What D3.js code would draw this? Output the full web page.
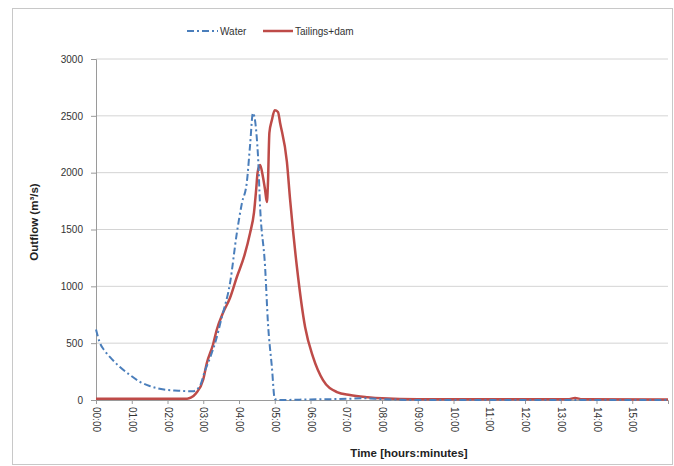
<!DOCTYPE html>
<html>
<head>
<meta charset="utf-8">
<script src="https://cdn.jsdelivr.net/npm/d3@7"></script>
<style>
  body { margin: 0; background: #fff; }
  svg { display: block; font-family: "Liberation Sans", Arial, sans-serif; }
</style>
</head>
<body>
<svg id="chart" width="674" height="466"></svg>
<script>
// hours since start -> outflow (m3/s)
const waterTime = [0, 0.1, 0.25, 0.4, 0.67, 0.95, 1.23, 1.5, 1.9, 2.3, 2.7, 2.9, 3.05, 3.2, 3.33, 3.52, 3.75, 3.94, 4.08, 4.22, 4.31, 4.39, 4.53, 4.59, 4.73, 4.81, 4.92, 5.0, 5.1, 6.0, 7.0, 7.5, 8.0, 9.0, 16.0];
const waterFlow = [620, 510, 430, 375, 290, 220, 160, 123, 92, 82, 76, 120, 260, 380, 500, 730, 1030, 1470, 1730, 1918, 2243, 2525, 2155, 1700, 1170, 677, 290, 10, 0, 5, 10, 15, 8, 0, 0];

const damTime = [0, 2.55, 2.65, 2.8, 3.0, 3.1, 3.27, 3.38, 3.55, 3.75, 3.94, 4.15, 4.31, 4.42, 4.48, 4.52, 4.59, 4.67, 4.73, 4.78, 4.81, 4.85, 4.92, 5.0, 5.09, 5.15, 5.34, 5.43, 5.62, 5.85, 6.07, 6.35, 6.74, 7.1, 7.6, 8.0, 9.0, 13.2, 13.4, 13.6, 16.0];
const damFlow = [12, 12, 20, 60, 180, 325, 484, 620, 765, 900, 1082, 1270, 1469, 1650, 1850, 2000, 2067, 1962, 1848, 1742, 1910, 2350, 2463, 2550, 2534, 2437, 2094, 1760, 1170, 640, 380, 175, 70, 44, 25, 15, 6, 6, 18, 6, 4];

const yTicks = [0, 500, 1000, 1500, 2000, 2500, 3000];
const xTicks = d3.range(0, 16);

const svg = d3.select('#chart');
const plotLeft = 96, plotRight = 668, plotTop = 59, plotBottom = 400;

const x = d3.scaleLinear().domain([0, 16]).range([plotLeft, plotRight]);
const y = d3.scaleLinear().domain([0, 3000]).range([plotBottom, plotTop]);

// outer chart border
svg.append('rect')
  .attr('x', 12.5).attr('y', 8.5)
  .attr('width', 660).attr('height', 456)
  .attr('fill', 'none').attr('stroke', '#c8c8c8');

// gridlines
svg.append('g')
  .selectAll('line')
  .data(yTicks.filter(d => d > 0))
  .join('line')
  .attr('x1', plotLeft).attr('x2', plotRight)
  .attr('y1', d => y(d)).attr('y2', d => y(d))
  .attr('stroke', '#d4d4d4').attr('stroke-width', 1);

// y axis
const yAxis = svg.append('g')
  .attr('transform', `translate(${plotLeft},0)`)
  .call(d3.axisLeft(y).tickValues(yTicks).tickFormat(d3.format('d')).tickSize(5).tickPadding(8));
yAxis.select('.domain').attr('stroke', '#9a9a9a');
yAxis.selectAll('.tick line').attr('stroke', '#9a9a9a');
yAxis.selectAll('text').attr('font-size', 10).attr('fill', '#333');

// x axis
const xAxis = svg.append('g')
  .attr('transform', `translate(0,${plotBottom})`)
  .call(d3.axisBottom(x).tickValues(xTicks).tickSize(4)
    .tickFormat(d => String(d).padStart(2, '0') + ':00'));
xAxis.select('.domain').attr('stroke', '#9a9a9a');
xAxis.selectAll('.tick line').attr('stroke', '#9a9a9a');
xAxis.selectAll('text')
  .attr('font-size', 10).attr('fill', '#333')
  .attr('transform', 'rotate(90)')
  .attr('x', 7).attr('y', 0).attr('dy', '0.35em')
  .attr('text-anchor', 'start');

// series
const line = d3.line().x(d => x(d[0])).y(d => y(d[1])).curve(d3.curveMonotoneX);

svg.append('path')
  .datum(damTime.map((t, i) => [t, damFlow[i]]))
  .attr('d', line)
  .attr('fill', 'none').attr('stroke', '#be4b48')
  .attr('stroke-width', 2.5).attr('stroke-linejoin', 'round');

svg.append('path')
  .datum(waterTime.map((t, i) => [t, waterFlow[i]]))
  .attr('d', line)
  .attr('fill', 'none').attr('stroke', '#4a7ebb')
  .attr('stroke-width', 2).attr('stroke-dasharray', '7,3,2,3');

// axis titles
svg.append('text')
  .attr('x', 409).attr('y', 457)
  .attr('text-anchor', 'middle').attr('font-size', 11.5).attr('font-weight', 'bold')
  .attr('fill', '#222')
  .text('Time [hours:minutes]');

svg.append('text')
  .attr('transform', 'translate(38,222) rotate(-90)')
  .attr('text-anchor', 'middle').attr('font-size', 11.5).attr('font-weight', 'bold')
  .attr('fill', '#222')
  .text('Outflow (m³/s)');

// legend
const legend = svg.append('g').attr('transform', 'translate(0,31)');
legend.append('line')
  .attr('x1', 187).attr('x2', 218).attr('y1', 0).attr('y2', 0)
  .attr('stroke', '#4a7ebb').attr('stroke-width', 2).attr('stroke-dasharray', '7,3,2,3');
legend.append('text')
  .attr('x', 220).attr('y', 0).attr('dy', '0.35em')
  .attr('font-size', 10).attr('fill', '#333').text('Water');
legend.append('line')
  .attr('x1', 263).attr('x2', 293).attr('y1', 0).attr('y2', 0)
  .attr('stroke', '#be4b48').attr('stroke-width', 2.5);
legend.append('text')
  .attr('x', 295).attr('y', 0).attr('dy', '0.35em')
  .attr('font-size', 10).attr('fill', '#333').text('Tailings+dam');
</script>
</body>
</html>
